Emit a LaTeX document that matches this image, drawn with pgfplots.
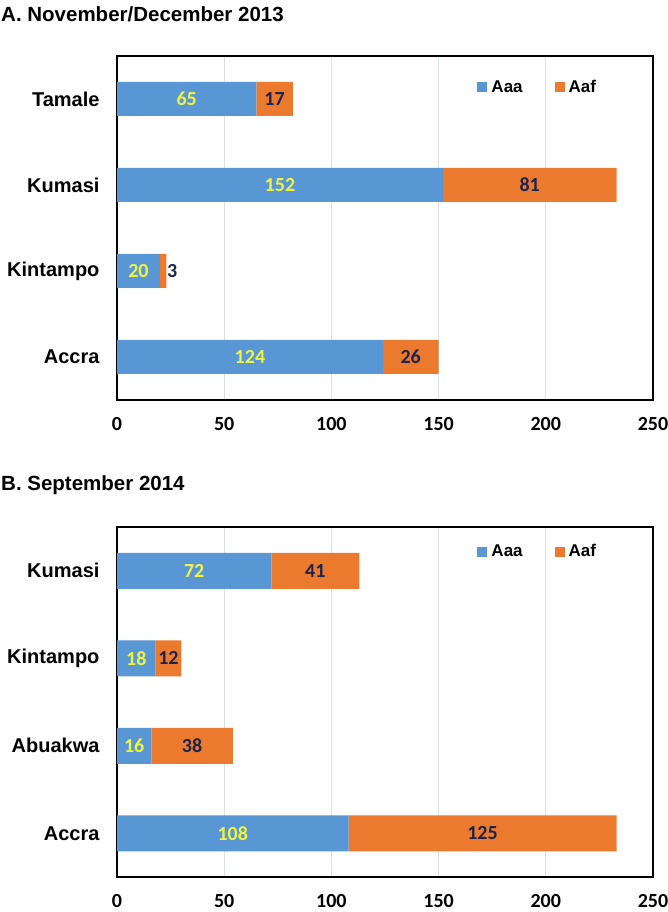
\documentclass[border=0pt]{standalone}
\usepackage{fontspec}
\setmainfont{Liberation Sans}
\newfontfamily\calib{Carlito}
\usepackage{pgfplots}
\pgfplotsset{compat=1.18}
\definecolor{blueM}{RGB}{88,150,212}
\definecolor{orM}{RGB}{236,122,46}
\definecolor{labY}{RGB}{240,244,60}
\definecolor{labN}{RGB}{28,36,78}
\definecolor{gridc}{RGB}{218,224,232}
\pgfplotsset{
 panel/.style={
  xbar stacked, scale only axis, width=536pt,
  xmin=0, xmax=250, ymin=-0.5, ymax=3.5,
  xtick={0,50,...,250}, ytick={0,1,2,3},
  xmajorgrids, major grid style={gridc, line width=0.9pt},
  axis line style={black, line width=1.3pt},
  major tick length=0pt,
  /pgf/number format/assume math mode=true,
  xticklabel style={font=\calib\bfseries\fontsize{20}{24}\selectfont, inner sep=1pt, yshift=-16pt},
  yticklabel style={font=\bfseries\fontsize{20}{24}\selectfont, xshift=-14pt},
  legend style={draw=none, fill=none, legend columns=2,
    font=\bfseries\fontsize{17}{20}\selectfont,
    /tikz/every odd column/.append style={column sep=2pt},
    /tikz/every even column/.append style={column sep=30pt}},
  legend image code/.code={\fill[##1,draw=none] (-2pt,-5pt) rectangle (8pt,5pt);},
 },
 aaa/.style={draw=none, fill=blueM,
   nodes near coords, point meta=explicit,
   nodes near coords style={anchor=center, text=labY,
     font=\calib\bfseries\fontsize{20}{24}\selectfont}},
 aaf/.style={draw=none, fill=orM,
   nodes near coords, point meta=explicit,
   visualization depends on={\thisrow{v} \as \val},
   nodes near coords style={anchor=center, text=labN,
     font=\calib\bfseries\fontsize{20}{24}\selectfont,
     xshift={((\val<5) ? 9 : 0)*1pt}}},
}
\begin{document}
\begin{tikzpicture}
\useasboundingbox (0,0) rectangle (668pt,-912pt);
\node[anchor=west, font=\bfseries\fontsize{20.5}{24}\selectfont, inner sep=0pt] at (1pt,-14pt) {A. November/December 2013};
\node[anchor=west, font=\bfseries\fontsize{20.5}{24}\selectfont, inner sep=0pt] at (1pt,-485pt) {B. September 2014};
\begin{axis}[panel, height=344pt, bar width=34pt, at={(117pt,-56pt)}, anchor=north west,
  yticklabels={Accra,Kintampo,Kumasi,Tamale},
  legend style={at={(0.785,0.91)}, anchor=center}]
\addplot[aaa] table[x=v, y=y, meta=v] {
y v
0 124
1 20
2 152
3 65
};
\addplot[aaf] table[x=v, y=y, meta=v] {
y v
0 26
1 3
2 81
3 17
};
\legend{Aaa,Aaf}
\end{axis}
\begin{axis}[panel, height=350pt, bar width=36pt, at={(117pt,-527pt)}, anchor=north west,
  yticklabels={Accra,Abuakwa,Kintampo,Kumasi},
  legend style={at={(0.785,0.93)}, anchor=center}]
\addplot[aaa] table[x=v, y=y, meta=v] {
y v
0 108
1 16
2 18
3 72
};
\addplot[aaf] table[x=v, y=y, meta=v] {
y v
0 125
1 38
2 12
3 41
};
\legend{Aaa,Aaf}
\end{axis}
\end{tikzpicture}
\end{document}
